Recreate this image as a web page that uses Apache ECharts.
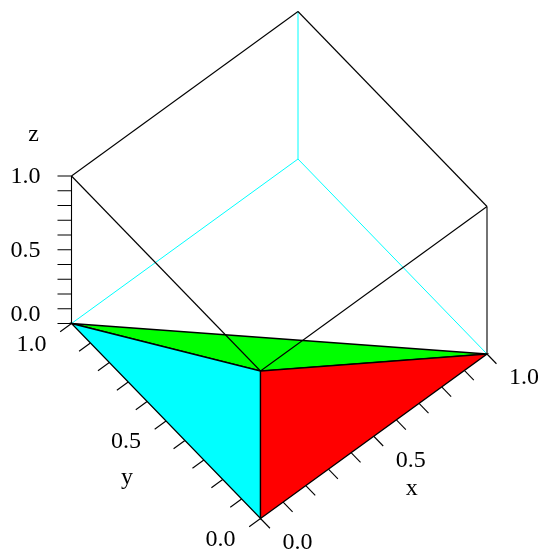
<!DOCTYPE html>
<html>
<head>
<meta charset="utf-8">
<title>Simplex in the unit cube</title>
<style>
  html, body { margin: 0; padding: 0; background: #fff; }
  #chart { width: 538px; height: 551px; }
</style>
<script src="https://cdn.jsdelivr.net/npm/echarts@6/dist/echarts.min.js"></script>
</head>
<body>
<div id="chart"></div>
<script>
// values along each axis, one tick per entry
const tickValues = [0, 0.1, 0.2, 0.3, 0.4, 0.5, 0.6, 0.7, 0.8, 0.9, 1]
const tickLabels = [
  { value: 0, text: '0.0' },
  { value: 0.5, text: '0.5' },
  { value: 1, text: '1.0' }
]

// faces of the simplex, in x, y, z
const cyanFace = [[0, 1, 0], [0, 0, 1], [0, 0, 0]]
const redFace = [[0, 0, 1], [0, 0, 0], [1, 0, 0]]
const greenFace = [[0, 1, 0], [1, 0, 0], [0, 0, 1]]

// box edges behind the faces
const backEdges = [
  [[0, 1, 0], [1, 1, 0]],
  [[1, 0, 0], [1, 1, 0]],
  [[1, 1, 0], [1, 1, 1]]
]
const topEdges = [
  [[0, 1, 1], [1, 1, 1]],
  [[1, 1, 1], [1, 0, 1]],
  [[0, 1, 0], [0, 1, 1]],
  [[1, 0, 0], [1, 0, 1]]
]
// these two run over the green face
const frontEdges = [
  [[0, 1, 1], [0, 0, 1]],
  [[1, 0, 1], [0, 0, 1]]
]

// view of the cube on the page
const origin = [260.5, 518.5]
const xDir = [226.5, -164.5]
const yDir = [-189, -195]
const zDir = [0, -147.5]

const project = (p) => [
  origin[0] + p[0] * xDir[0] + p[1] * yDir[0] + p[2] * zDir[0],
  origin[1] + p[0] * xDir[1] + p[1] * yDir[1] + p[2] * zDir[1]
]

// tick marks
const axisTicks = []
tickValues.forEach((v) => {
  axisTicks.push([[v, 0, 0], [v, -0.05, 0]])
  axisTicks.push([[0, v, 0], [-0.05, v, 0]])
  axisTicks.push([[0, 1, v], [-0.0363, 1.0306, v]])
})

// labels sit at a fixed distance from their tick
const labels = []
tickLabels.forEach((t) => {
  const px = project([t.value, 0, 0])
  const py = project([0, t.value, 0])
  const pz = project([0, 1, t.value])
  labels.push({ text: t.text, x: px[0] + 37, y: px[1] + 24 })
  labels.push({ text: t.text, x: py[0] - 40, y: py[1] + 21 })
  // 0.0 on z is lifted clear of the 1.0 on y
  labels.push({ text: t.text, x: pz[0] - 46, y: pz[1] + (t.value === 0 ? -9 : 1) })
})
const xName = project([0.5, 0, 0])
const yName = project([0, 0.5, 0])
const zName = project([0, 1, 1])
labels.push({ text: 'x', x: xName[0] + 38, y: xName[1] + 52 })
labels.push({ text: 'y', x: yName[0] - 39, y: yName[1] + 57 })
labels.push({ text: 'z', x: zName[0] - 38, y: zName[1] - 41 })

const lineSeries = (list, color, width, z) => ({
  type: 'custom',
  coordinateSystem: 'cartesian2d',
  silent: true,
  z,
  data: list.map((item, i) => [i]),
  renderItem: (params, api) => {
    const a = api.coord(project(list[params.dataIndex][0]))
    const b = api.coord(project(list[params.dataIndex][1]))
    return {
      type: 'line',
      shape: { x1: a[0], y1: a[1], x2: b[0], y2: b[1] },
      style: { stroke: color, lineWidth: width, fill: null }
    }
  }
})

const faceSeries = (face, color, z) => ({
  type: 'custom',
  coordinateSystem: 'cartesian2d',
  silent: true,
  z,
  data: [[0]],
  renderItem: (params, api) => ({
    type: 'polygon',
    shape: { points: face.map((p) => api.coord(project(p))) },
    style: { fill: color, stroke: '#000', lineWidth: 1.3, lineJoin: 'miter' }
  })
})

const myChart = echarts.init(document.getElementById('chart'), null, { renderer: 'canvas' })
myChart.setOption({
  animation: false,
  backgroundColor: '#fff',
  grid: { left: 0, right: 0, top: 0, bottom: 0 },
  xAxis: { type: 'value', min: 0, max: 538, show: false },
  yAxis: { type: 'value', min: 0, max: 551, inverse: true, show: false },
  series: [
    lineSeries(backEdges, '#00ffff', 1, 1),
    lineSeries(topEdges, '#000', 1.1, 2),
    lineSeries(axisTicks, '#000', 1.1, 2),
    faceSeries(greenFace, '#00ff00', 3),
    faceSeries(cyanFace, '#00ffff', 4),
    faceSeries(redFace, '#ff0000', 4),
    lineSeries(frontEdges, '#000', 1.1, 5),
    {
      type: 'custom',
      coordinateSystem: 'cartesian2d',
      silent: true,
      z: 6,
      data: labels.map((item, i) => [i]),
      renderItem: (params, api) => {
        const item = labels[params.dataIndex]
        const p = api.coord([item.x, item.y])
        return {
          type: 'text',
          style: {
            text: item.text,
            x: p[0],
            y: p[1],
            fill: '#000',
            font: '24px "Liberation Serif"',
            align: 'center',
            verticalAlign: 'middle'
          }
        }
      }
    }
  ]
})
</script>
</body>
</html>
